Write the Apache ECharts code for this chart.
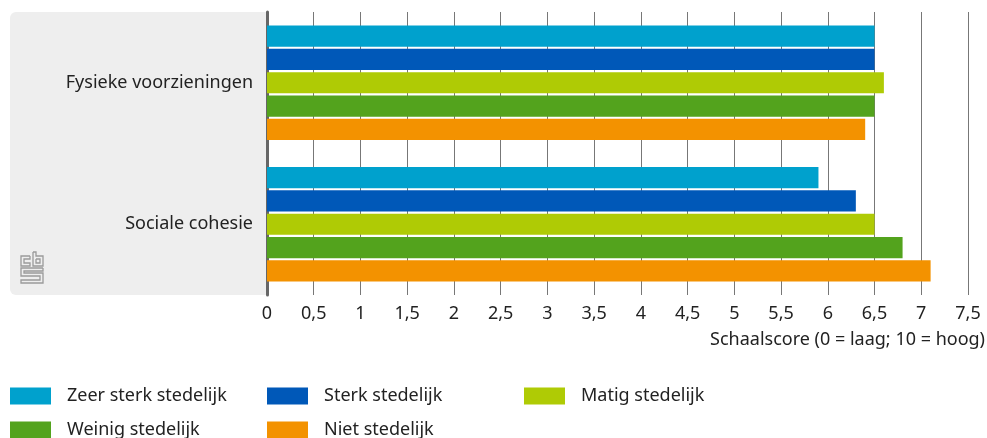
<!DOCTYPE html>
<html>
<head>
<meta charset="utf-8">
<script src="https://cdn.jsdelivr.net/npm/echarts@6/dist/echarts.min.js"></script>
<style>
  html, body { margin: 0; padding: 0; background: #fff; }
  #chart { width: 987px; height: 438px; }
</style>
</head>
<body>
<div id="chart"></div>
<script>
// gegevens
var categories = ['Fysieke voorzieningen', 'Sociale cohesie'];
var seriesNames = ['Zeer sterk stedelijk', 'Sterk stedelijk', 'Matig stedelijk', 'Weinig stedelijk', 'Niet stedelijk'];
var zeerSterk = [6.5, 5.9];
var sterk = [6.5, 6.3];
var matig = [6.6, 6.5];
var weinig = [6.5, 6.8];
var niet = [6.4, 7.1];
var xTicks = [0, 0.5, 1, 1.5, 2, 2.5, 3, 3.5, 4, 4.5, 5, 5.5, 6, 6.5, 7, 7.5];

var colors = ['#00a1cd', '#0058b8', '#afcb05', '#53a31d', '#f39200'];
var values = [zeerSterk, sterk, matig, weinig, niet];
var font = 'Noto Sans';
var fs = 18;

var myChart = echarts.init(document.getElementById('chart'));

var series = seriesNames.map(function (name, i) {
    return {
        name: name,
        type: 'bar',
        data: values[i],
        barGap: '10%',
        barCategoryGap: '19%',
        itemStyle: { color: colors[i] },
        z: 3
    };
});

// cbs logo (ruwe benadering)
var logoStyle = { stroke: '#9a9a9a', lineWidth: 1.3, fill: null };
var logo = [
    [[30, 256], [21, 256], [21, 266], [30, 266], [30, 263], [24, 263], [24, 259], [30, 259], [30, 256]],
    [[33, 252], [36, 252], [36, 256], [43, 256], [43, 266], [33, 266], [33, 252]],
    [[36, 259], [40, 259], [40, 263], [36, 263], [36, 259]],
    [[43, 268], [21, 268], [21, 276], [40, 276], [40, 280], [21, 280], [21, 283], [43, 283], [43, 273], [24, 273], [24, 271], [43, 271], [43, 268]]
].map(function (pts) {
    return { type: 'polyline', shape: { points: pts }, style: logoStyle, z: 2 };
});

var option = {
    animation: false,
    textStyle: { fontFamily: font },
    grid: { left: 267, right: 19, top: 12, bottom: 143 },
    graphic: [
        {
            type: 'rect',
            shape: { x: 10, y: 12, width: 257, height: 283, r: [6, 0, 0, 6] },
            style: { fill: '#eeeeee' },
            z: -1
        },
        {
            type: 'text',
            right: 2,
            top: 331,
            style: { text: 'Schaalscore (0 = laag; 10 = hoog)', font: fs + 'px "Noto Sans"', fill: '#222' }
        }
    ].concat(logo),
    legend: {
        data: seriesNames,
        left: 10,
        top: 384,
        width: 800,
        padding: 0,
        itemWidth: 41,
        itemHeight: 17,
        itemGap: 10,
        icon: 'rect',
        textStyle: {
            fontSize: fs,
            color: '#222',
            width: 190,
            height: 24,
            lineHeight: 24,
            padding: [0, 0, 0, 11]
        }
    },
    xAxis: {
        type: 'value',
        min: 0,
        max: 7.5,
        interval: 0.5,
        axisLine: { show: false },
        axisTick: { show: false },
        splitLine: { show: true, lineStyle: { color: '#777', width: 1 } },
        axisLabel: {
            fontSize: fs,
            color: '#222',
            margin: 10,
            formatter: function (v) {
                return xTicks.indexOf(v) >= 0 ? String(v).replace('.', ',') : '';
            }
        }
    },
    yAxis: {
        type: 'category',
        data: categories,
        inverse: true,
        axisLine: { show: true, lineStyle: { color: '#666', width: 3 } },
        axisTick: { show: false },
        axisLabel: { fontSize: fs, color: '#222', margin: 14 }
    },
    series: series
};

myChart.setOption(option);
</script>
</body>
</html>
